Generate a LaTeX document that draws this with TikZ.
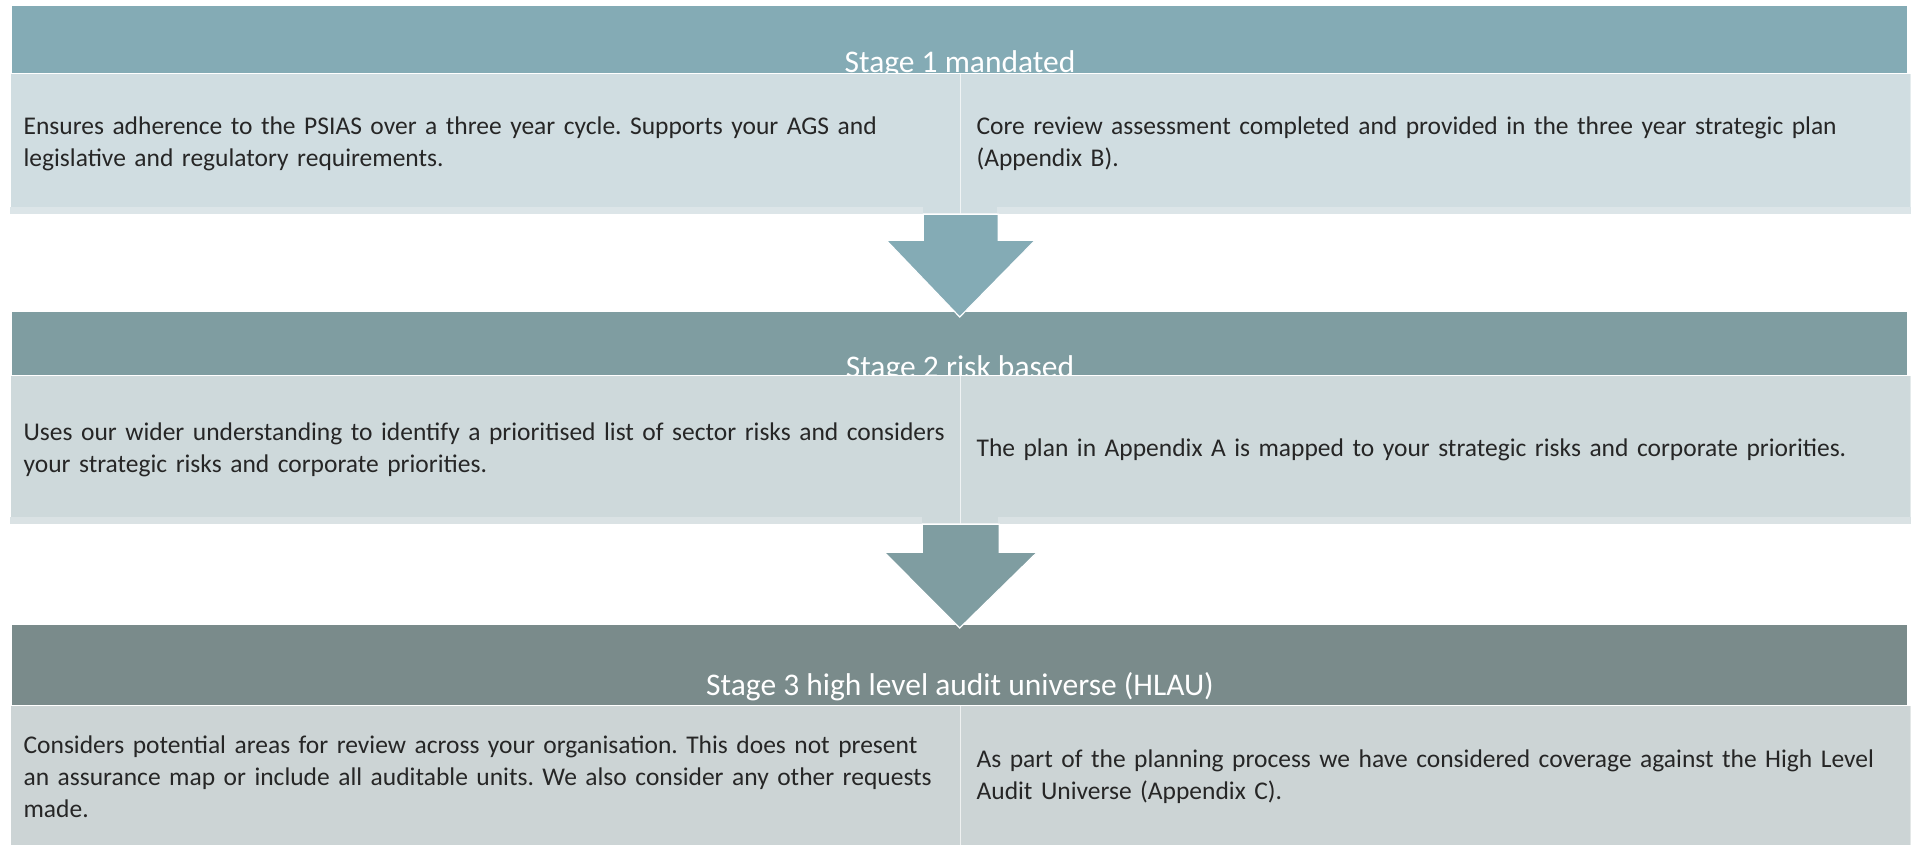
\documentclass[tikz,border=0pt]{standalone}
\usepackage{fontspec}
\setmainfont{Carlito}
\usetikzlibrary{calc}

\definecolor{headone}{HTML}{84ABB5}
\definecolor{headtwo}{HTML}{7F9DA1}
\definecolor{headthree}{HTML}{7A8B8B}
\definecolor{boxone}{HTML}{D0DDE1}
\definecolor{boxtwo}{HTML}{CED9DB}
\definecolor{boxthree}{HTML}{CCD4D5}
\definecolor{stripone}{HTML}{DCE5E8}
\definecolor{striptwo}{HTML}{DAE2E4}
\definecolor{ink}{HTML}{262626}

\newcommand\bodytext{\fontsize{25.5}{32}\selectfont\frenchspacing\hyphenpenalty=10000\relax}

\tikzset{
  stagehead/.style={fill=#1, anchor=north west, inner sep=0pt, minimum width=1895pt},
  stagelabel/.style={text=white, anchor=base, inner sep=0pt, font=\fontsize{31.5}{36}\selectfont},
  detail/.style={fill=#1, draw=white, draw opacity=.45, line width=1.2pt, anchor=north west,
    inner xsep=13pt, inner ysep=0pt, text width=924pt, align=left, text=ink, font=\bodytext},
  blockarrow/.style={fill=#1, draw=white, line width=1.2pt, line join=miter},
}

\begin{document}
\begin{tikzpicture}[x=1pt,y=-1pt]
  \useasboundingbox (0,0) rectangle (1914,844);

  % stage headers
  \node[stagehead=headone, minimum height=67pt] (s1head) at (12,6) {};
  \node[stagehead=headtwo, minimum height=63pt] (s2head) at (12,312) {};
  \node[stagehead=headthree, minimum height=80pt] (s3head) at (12,625) {};

  \node[stagelabel] (s1label) at (960,72) {Stage 1 mandated};
  \node[stagelabel] (s2label) at (960,377) {Stage 2 risk based};
  \node[stagelabel] (s3label) at (960,695) {Stage 3 high level audit universe (HLAU)};

  % detail boxes, two per stage
  \node[detail=boxone, minimum height=140pt] (s1L) at (10,73)
    {Ensures adherence to the PSIAS over a three year cycle. Supports your AGS and\\
     legislative and regulatory requirements.};
  \node[detail=boxone, minimum height=140pt, text width=918pt, inner xsep=16pt] (s1R) at (960,73)
    {Core review assessment completed and provided in the three year strategic plan\\
     (Appendix B).};

  \node[detail=boxtwo, minimum height=148pt] (s2L) at (10,375)
    {Uses our wider understanding to identify a prioritised list of sector risks and considers\\
     your strategic risks and corporate priorities.};
  \node[detail=boxtwo, minimum height=148pt, text width=918pt, inner xsep=16pt] (s2R) at (960,375)
    {The plan in Appendix A is mapped to your strategic risks and corporate priorities.};

  \node[detail=boxthree, minimum height=142pt] (s3L) at (10,705)
    {Considers potential areas for review across your organisation. This does not present\\
     an assurance map or include all auditable units. We also consider any other requests\\
     made.};
  \node[detail=boxthree, minimum height=142pt, text width=918pt, inner xsep=16pt] (s3R) at (960,705)
    {As part of the planning process we have considered coverage against the High Level\\
     Audit Universe (Appendix C).};

  % lighter band along the bottom of stages 1 and 2
  \fill[stripone] (s1L.south west) rectangle ($(s1L.south east)+(-38,-7)$);
  \fill[stripone] ($(s1R.south west)+(37,0)$) rectangle ($(s1R.south east)+(0,-7)$);
  \fill[striptwo] (s2L.south west) rectangle ($(s2L.south east)+(-39,-7)$);
  \fill[striptwo] ($(s2R.south west)+(38,0)$) rectangle ($(s2R.south east)+(0,-7)$);

  % block arrows between stages
  \draw[blockarrow=headone] ($(s1L.south east)+(-38,0)$) -- ++(75,0) -- ++(0,26) -- ++(37,0)
    -- ($(s2head.north)+(0,5)$) -- ($(s1L.south east)+(-75,26)$) -- ++(37,0) -- cycle;
  \draw[blockarrow=headtwo] ($(s2L.south east)+(-39,0)$) -- ++(77,0) -- ++(0,28) -- ++(38,0)
    -- ($(s3head.north)+(0,3)$) -- ($(s2L.south east)+(-77,28)$) -- ++(38,0) -- cycle;
\end{tikzpicture}
\end{document}
